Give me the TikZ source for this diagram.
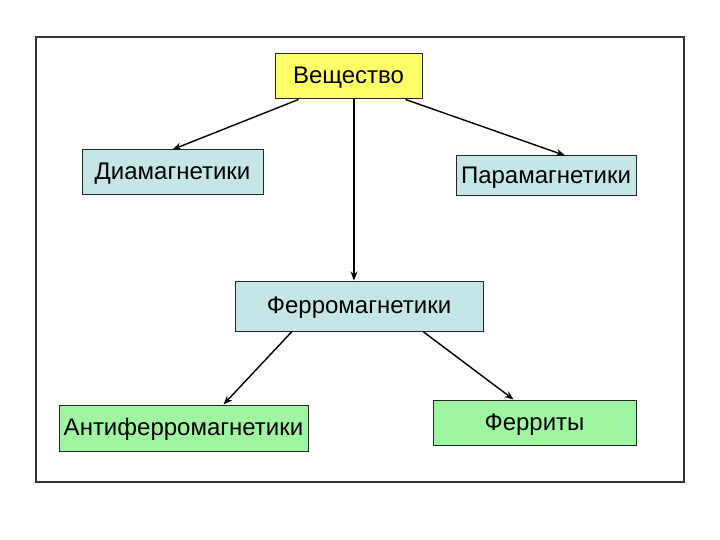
\documentclass[tikz,border=0pt]{standalone}
\usepackage{fontspec}
\setmainfont{Liberation Sans}
\usetikzlibrary{arrows.meta}
\definecolor{yel}{HTML}{FFFF66}
\definecolor{cyanbox}{HTML}{C4E6E6}
\definecolor{greenbox}{HTML}{A0F5A0}
\definecolor{frame}{HTML}{333340}
\tikzset{
  box/.style={draw=black!85, line width=1pt, inner sep=0pt, text height=17pt, text depth=2pt, font=\fontsize{24}{28}\selectfont},
  conn/.style={draw=black, line width=1.4pt, -{Stealth[length=9pt,width=7pt]}}
}
\begin{document}
\begin{tikzpicture}[x=1pt,y=-1pt]
\useasboundingbox (0,0) rectangle (720,540);
\draw[frame, line width=1.1pt] (36,37) rectangle (684,482);
\node[box, fill=yel, minimum width=147pt, minimum height=45pt] (vesh) at (348.5,76.5) {Вещество};
\node[box, fill=cyanbox, minimum width=181pt, minimum height=45pt] (dia) at (172.5,172.5) {Диамагнетики};
\node[box, fill=cyanbox, minimum width=180pt, minimum height=40pt] (para) at (546,176) {Парамагнетики};
\node[box, fill=cyanbox, minimum width=248pt, minimum height=50pt] (ferro) at (359,306) {Ферромагнетики};
\node[box, fill=greenbox, minimum width=249pt, minimum height=46pt] (anti) at (183.5,428) {Антиферромагнетики};
\node[box, fill=greenbox, minimum width=203pt, minimum height=45pt] (ferri) at (534.5,422.5) {Ферриты};
\draw[conn] ([xshift=-50pt]vesh.south) -- ([xshift=0pt]dia.north);
\draw[conn] ([xshift=57pt]vesh.south) -- ([xshift=19pt]para.north);
\draw[conn] ([xshift=5.5pt]vesh.south) -- ([xshift=-5pt]ferro.north);
\draw[conn] ([xshift=-67pt]ferro.south) -- ([xshift=40pt]anti.north);
\draw[conn] ([xshift=64pt]ferro.south) -- ([xshift=-21pt]ferri.north);
\end{tikzpicture}
\end{document}
